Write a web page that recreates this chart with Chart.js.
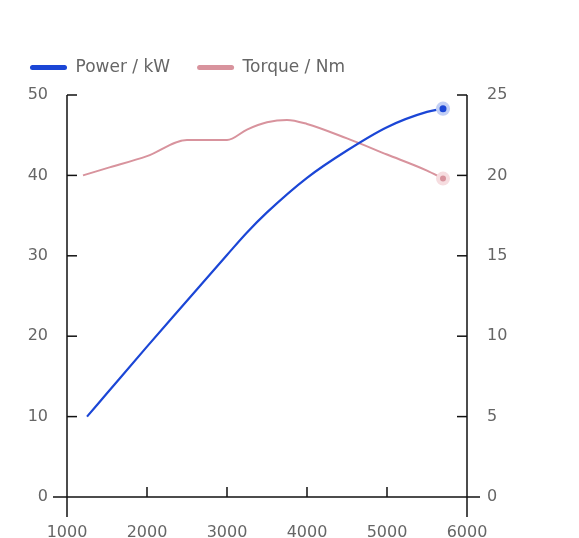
<!DOCTYPE html>
<html><head><meta charset="utf-8">
<script src="https://cdn.jsdelivr.net/npm/chart.js@4.4.1/dist/chart.umd.min.js"></script>
<style>html,body{margin:0;padding:0;background:#fff;}#wrap{width:579px;height:538px;}</style>
</head><body><div id="wrap"><canvas id="c" width="579" height="538"></canvas></div>
<script>
const rpmPower = [1250, 1500, 2000, 2500, 3000, 3250, 3500, 4000, 4500, 5000, 5500, 5700];
const powerKW = [10, 12.9, 18.7, 24.4, 30.1, 32.9, 35.4, 39.7, 43.1, 46.0, 47.9, 48.3];
const rpmTorque = [1200, 1500, 2000, 2500, 3000, 3250, 3500, 3750, 4000, 4500, 5000, 5500, 5700];
const torqueNm = [20.0, 20.45, 21.2, 22.2, 22.2, 22.85, 23.3, 23.45, 23.2, 22.3, 21.3, 20.3, 19.8];
const xTicks = [1000, 2000, 3000, 4000, 5000, 6000];
const leftTicks = [0, 10, 20, 30, 40, 50];
const rightTicks = [0, 5, 10, 15, 20, 25];
const seriesNames = ['Power / kW', 'Torque / Nm'];

const BLUE = '#1b46d6', BLUE_HALO = '#c2cff5';
const PINK = '#d8939d', PINK_HALO = '#f6dde0';
const FONT = 'DejaVu Sans';

function lastOnly(n, v) { return Array.from({length: n}, (_, i) => i === n - 1 ? v : 0); }

const legendHeightPlugin = {
  id: 'legendHeight',
  afterInit(chart) {
    const lg = chart.legend;
    const orig = lg.fit.bind(lg);
    lg.fit = function () { orig(); this.height = 63; };
  }
};

const axesPlugin = {
  id: 'axesDraw',
  beforeDatasetsDraw(chart) {
    const {ctx, chartArea: a, scales} = chart;
    const x = scales.x, yl = scales.y, yr = scales.y2;
    const y0 = yl.getPixelForValue(0);
    ctx.save();
    ctx.strokeStyle = '#111';
    ctx.lineWidth = 1.5;
    const line = (x1, y1, x2, y2) => { ctx.beginPath(); ctx.moveTo(x1, y1); ctx.lineTo(x2, y2); ctx.stroke(); };
    line(a.left - 14, y0, a.right + 13, y0);
    line(a.left, yl.getPixelForValue(leftTicks[leftTicks.length - 1]), a.left, y0 + 20);
    line(a.right, yr.getPixelForValue(rightTicks[rightTicks.length - 1]), a.right, y0 + 20);
    xTicks.slice(1, -1).forEach(v => { const p = x.getPixelForValue(v); line(p, y0, p, y0 - 10); });
    leftTicks.slice(1).forEach(v => { const p = yl.getPixelForValue(v); line(a.left, p, a.left + 10, p); });
    rightTicks.slice(1).forEach(v => { const p = yr.getPixelForValue(v); line(a.right, p, a.right - 10, p); });
    ctx.restore();
  }
};

const tickFont = {family: FONT, size: 16};
const plain = v => String(v);

new Chart(document.getElementById('c'), {
  type: 'line',
  data: {
    datasets: [
      {
        label: seriesNames[0],
        data: rpmPower.map((r, i) => ({x: r, y: powerKW[i]})),
        yAxisID: 'y',
        borderColor: BLUE,
        backgroundColor: BLUE,
        borderWidth: 2.2,
        cubicInterpolationMode: 'monotone',
        pointRadius: lastOnly(rpmPower.length, 5.3),
        pointBorderWidth: lastOnly(rpmPower.length, 3.6),
        pointBackgroundColor: BLUE,
        pointBorderColor: BLUE_HALO
      },
      {
        label: seriesNames[1],
        data: rpmTorque.map((r, i) => ({x: r, y: torqueNm[i]})),
        yAxisID: 'y2',
        borderColor: PINK,
        backgroundColor: PINK,
        borderWidth: 2,
        cubicInterpolationMode: 'monotone',
        pointRadius: lastOnly(rpmTorque.length, 5),
        pointBorderWidth: lastOnly(rpmTorque.length, 4),
        pointBackgroundColor: PINK,
        pointBorderColor: PINK_HALO
      }
    ]
  },
  options: {
    responsive: false,
    animation: false,
    events: [],
    layout: {padding: {top: 32, left: 3, right: 0, bottom: 0}},
    plugins: {
      tooltip: {enabled: false},
      legend: {
        position: 'top',
        align: 'start',
        labels: {
          boxWidth: 37,
          boxHeight: 5,
          useBorderRadius: true,
          borderRadius: 2.5,
          padding: 27,
          color: '#666',
          font: {family: FONT, size: 17},
          generateLabels(chart) {
            return chart.data.datasets.map((ds, i) => ({
              text: ds.label, fillStyle: ds.borderColor, strokeStyle: ds.borderColor,
              lineWidth: 0, hidden: false, datasetIndex: i, fontColor: '#666', borderRadius: 2.5
            }));
          }
        }
      }
    },
    scales: {
      x: {
        type: 'linear', position: 'bottom', min: xTicks[0], max: xTicks[xTicks.length - 1],
        afterBuildTicks: s => { s.ticks = xTicks.map(v => ({value: v})); },
        afterFit: s => { s.height = 41; },
        grid: {display: false, drawTicks: false}, border: {display: false},
        ticks: {color: '#666', font: tickFont, padding: 26, maxRotation: 0, callback: plain}
      },
      y: {
        type: 'linear', position: 'left', min: leftTicks[0], max: leftTicks[leftTicks.length - 1],
        afterBuildTicks: s => { s.ticks = leftTicks.map(v => ({value: v})); },
        afterFit: s => { s.width = 64; },
        grid: {display: false, drawTicks: false}, border: {display: false},
        ticks: {color: '#666', font: tickFont, padding: 19, callback: plain}
      },
      y2: {
        type: 'linear', position: 'right', min: rightTicks[0], max: rightTicks[rightTicks.length - 1],
        afterBuildTicks: s => { s.ticks = rightTicks.map(v => ({value: v})); },
        afterFit: s => { s.width = 112; },
        grid: {display: false, drawTicks: false}, border: {display: false},
        ticks: {color: '#666', font: tickFont, padding: 20, callback: plain}
      }
    }
  },
  plugins: [legendHeightPlugin, axesPlugin]
});
</script></body></html>
